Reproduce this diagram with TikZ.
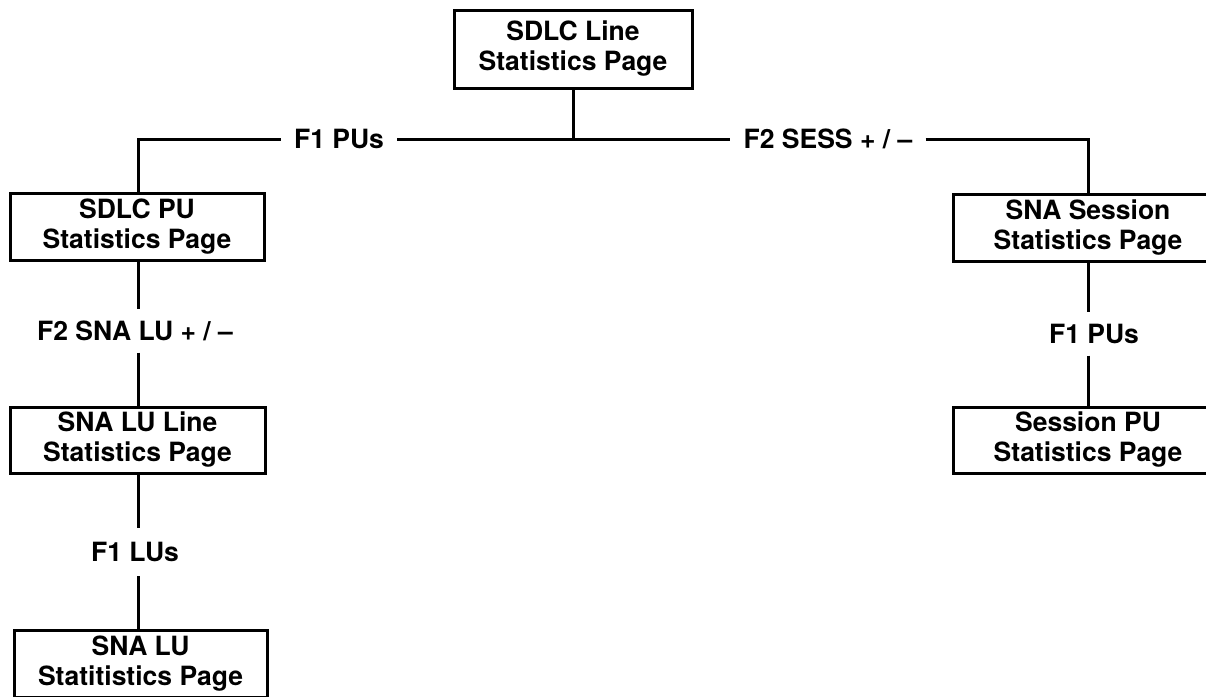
\documentclass[tikz,border=0pt]{standalone}
\usepackage{fontspec}
\setmainfont{TeX Gyre Heros}
\begin{document}
\begin{tikzpicture}[x=1pt,y=-1pt,
  pagebox/.style={draw,line width=3pt,rectangle,align=center,
    font=\fontsize{26.5}{30}\selectfont\bfseries,inner sep=0pt},
  keylabel/.style={font=\fontsize{26.5}{30}\selectfont\bfseries,inner xsep=13pt,inner ysep=11.5pt},
  conn/.style={line width=3pt}]
\useasboundingbox (0,0) rectangle (1206,696);
\begin{scope}
\clip (0,0) rectangle (1206,696);
% boxes
\node[pagebox,minimum width=238pt,minimum height=78pt] (top) at (573,49) {SDLC Line\\Statistics Page};
\node[pagebox,minimum width=254pt,minimum height=67pt] (pu) at (137,226.5) {SDLC PU\\Statistics Page};
\node[pagebox,minimum width=255pt,minimum height=66pt] (lul) at (137.5,440) {SNA LU Line\\Statistics Page};
\node[pagebox,minimum width=253pt,minimum height=67pt] (lu) at (140.5,664) {SNA LU\\Statitistics Page};
\node[pagebox,minimum width=270pt,minimum height=67pt] (sess) at (1088,227.5) {SNA Session\\Statistics Page};
\node[pagebox,minimum width=270pt,minimum height=66pt] (spu) at (1088,440) {Session PU\\Statistics Page};
% labels
\node[keylabel] (f1pu) at (339,139) {F1 PUs};
\node[keylabel] (f2sess) at (828,139) {F2 SESS + / --};
\node[keylabel] (f2lu) at (135,331) {F2 SNA LU + / --};
\node[keylabel,inner ysep=14pt] (f1lu) at (135,552) {F1 LUs};
\node[keylabel] (f1pus) at (1094,334) {F1 PUs};
% junction points
\coordinate (j) at (573,139);
\coordinate (cl) at (138,139);
\coordinate (cr) at (1088,139);
% connectors
\draw[conn] (top.south) -- (j);
\draw[conn] (f1pu.east) -- (f2sess.west);
\draw[conn] (f1pu.west) -- (cl) -- (cl |- pu.north);
\draw[conn] (f2sess.east) -- (cr) -- (cr |- sess.north);
\draw[conn] (cl |- pu.south) -- (cl |- f2lu.north);
\draw[conn] (cl |- f2lu.south) -- (cl |- lul.north);
\draw[conn] (cl |- lul.south) -- (cl |- f1lu.north);
\draw[conn] (cl |- f1lu.south) -- (cl |- lu.north);
\draw[conn] (cr |- sess.south) -- (cr |- f1pus.north);
\draw[conn] (cr |- f1pus.south) -- (cr |- spu.north);
\end{scope}
\end{tikzpicture}
\end{document}
